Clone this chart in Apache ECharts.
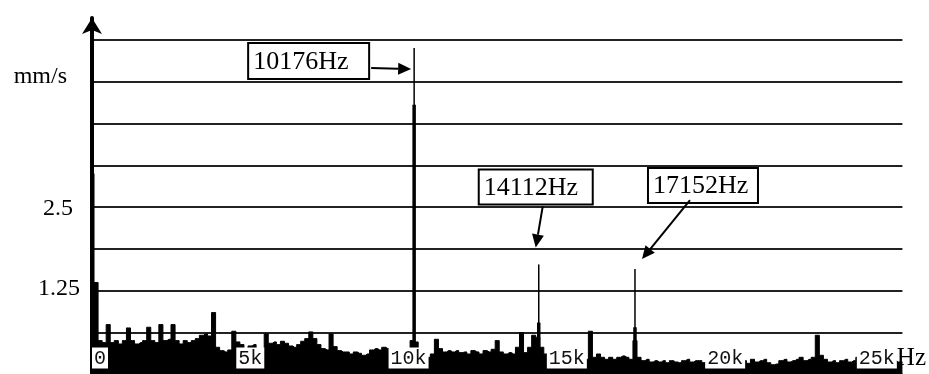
<!DOCTYPE html>
<html><head><meta charset="utf-8">
<script src="https://cdn.jsdelivr.net/npm/echarts@6/dist/echarts.min.js"></script>
<style>html,body{margin:0;padding:0;background:#fff}#c{width:929px;height:374px}</style>
</head><body><div id="c"></div>
<script>
// ---- data ----
const binWidthHz = 128;
const noiseValues = [
  3.00, 1.37, 0.50, 0.47, 0.74, 0.47, 0.50, 0.45, 0.50, 0.69,
  0.50, 0.45, 0.47, 0.50, 0.70, 0.50, 0.47, 0.74, 0.50, 0.52,
  0.74, 0.50, 0.45, 0.50, 0.47, 0.50, 0.53, 0.58, 0.60, 0.57,
  0.92, 0.40, 0.35, 0.33, 0.36, 0.64, 0.48, 0.44, 0.38, 0.42,
  0.44, 0.38, 0.37, 0.60, 0.46, 0.48, 0.44, 0.49, 0.46, 0.42,
  0.40, 0.44, 0.49, 0.53, 0.63, 0.53, 0.44, 0.38, 0.36, 0.60,
  0.41, 0.35, 0.33, 0.33, 0.30, 0.33, 0.31, 0.28, 0.30, 0.36,
  0.38, 0.36, 0.40, 0.38, 0.33, 0.31, 0.31, 0.33, 0.38, 0.50,
  0.48, 0.25, 0.22, 0.25, 0.30, 0.52, 0.38, 0.33, 0.35, 0.33,
  0.35, 0.32, 0.33, 0.30, 0.35, 0.33, 0.30, 0.35, 0.33, 0.37,
  0.50, 0.33, 0.30, 0.32, 0.30, 0.40, 0.62, 0.32, 0.40, 0.58,
  0.55, 0.40, 0.30, 0.25, 0.22, 0.22, 0.20, 0.22, 0.20, 0.22,
  0.22, 0.20, 0.22, 0.64, 0.25, 0.30, 0.25, 0.22, 0.25, 0.22,
  0.25, 0.27, 0.25, 0.22, 0.50, 0.25, 0.20, 0.22, 0.18, 0.20,
  0.18, 0.20, 0.17, 0.20, 0.18, 0.17, 0.20, 0.22, 0.18, 0.20,
  0.20, 0.17, 0.18, 0.20, 0.17, 0.18, 0.20, 0.18, 0.17, 0.16,
  0.18, 0.20, 0.16, 0.22, 0.18, 0.20, 0.22, 0.17, 0.14, 0.15,
  0.20, 0.22, 0.18, 0.20, 0.22, 0.25, 0.20, 0.22, 0.25, 0.58,
  0.28, 0.22, 0.18, 0.20, 0.17, 0.20, 0.22, 0.18, 0.20, 0.25,
  0.22, 0.20, 0.18, 0.20, 0.18, 0.20, 0.17, 0.18, 0.20, 0.18,
  0.18
];
const peakFreqs = [10176, 14112, 17152];
const peakValues = [4.88, 1.64, 1.57];
const peakShoulderValues = [4.03, 0.77, 0.70];
const peakLabels = ['10176Hz', '14112Hz', '17152Hz'];
const xTickValues = [0, 5000, 10000, 15000, 20000, 25000];
const xTickLabels = ['0', '5k', '10k', '15k', '20k', '25k'];
const xUnit = 'Hz';
const yLabelValues = [2.5, 1.25];
const yLabelTexts = ['2.5', '1.25'];
const yUnit = 'mm/s';
const yUnitTick = 4.375;

// ---- chart ----
const chart = echarts.init(document.getElementById('c'), null, {renderer: 'canvas'});
const serif = '"Liberation Serif", "Times New Roman", serif';
const mono = '"Liberation Mono", "DejaVu Sans Mono", monospace';

const option = {
  animation: false,
  backgroundColor: '#fff',
  grid: [
    {left: 92, right: 22, top: 40, bottom: 0},
    {left: 92, top: 18, bottom: 0, width: 1}
  ],
  xAxis: [
    {
      type: 'value', gridIndex: 0, min: 0, max: 25600, interval: 5000, z: 10,
      axisLine: {show: false}, axisTick: {show: false}, splitLine: {show: false},
      axisLabel: {
        inside: true, margin: 6, alignMinLabel: 'left', showMaxLabel: false,
        formatter: function (v) {
          const i = xTickValues.indexOf(v);
          if (i < 0) return '';
          if (i === xTickValues.length - 1) return '{sp|}{t|' + xTickLabels[i] + '}{u|' + xUnit + '}';
          return '{t|' + xTickLabels[i] + '}';
        },
        rich: {
          t: {fontFamily: mono, fontSize: 20, color: '#111', backgroundColor: '#fff', padding: [1, 2, 0, 2], lineHeight: 20},
          u: {fontFamily: serif, fontSize: 25, color: '#000', lineHeight: 20},
          sp: {width: 16}
        }
      }
    },
    {type: 'value', gridIndex: 1, show: false, min: 0, max: 1}
  ],
  yAxis: [
    {
      type: 'value', gridIndex: 0, min: 0, max: 5, interval: 0.625,
      axisLine: {show: false}, axisTick: {show: false},
      splitLine: {show: true, lineStyle: {color: '#222', width: 2}},
      axisLabel: {
        margin: 12,
        formatter: function (v) {
          if (Math.abs(v - yUnitTick) < 1e-6) return '{u|' + yUnit + '}';
          for (let i = 0; i < yLabelValues.length; i++) {
            if (Math.abs(v - yLabelValues[i]) < 1e-6) return '{n' + i + '|' + yLabelTexts[i] + '}';
          }
          return '';
        },
        rich: {
          n0: {fontFamily: serif, fontSize: 24, color: '#000', padding: [4, 7, 0, 0]},
          n1: {fontFamily: serif, fontSize: 24, color: '#000', padding: [0, 0, 4, 0]},
          u: {fontFamily: serif, fontSize: 24, color: '#000', padding: [0, 13, 10, 0]}
        }
      }
    },
    {
      type: 'value', gridIndex: 1, min: 0, max: 1,
      axisLine: {show: true, symbol: ['none', 'arrow'], symbolSize: [15, 16], lineStyle: {color: '#000', width: 4}},
      axisTick: {show: false}, axisLabel: {show: false}, splitLine: {show: false}
    }
  ],
  series: [
    {
      type: 'line', xAxisIndex: 0, yAxisIndex: 0, step: 'middle', symbol: 'none', z: 2,
      data: noiseValues.map((v, i) => [i * binWidthHz, v]),
      lineStyle: {color: '#000', width: 1},
      areaStyle: {color: '#000', opacity: 1}
    },
    {
      type: 'custom', xAxisIndex: 0, yAxisIndex: 0, z: 3,
      data: peakFreqs.map((f, i) => [f, peakValues[i], peakShoulderValues[i]]),
      renderItem: function (params, api) {
        const top = api.coord([api.value(0), api.value(1)]);
        const sh = api.coord([api.value(0), api.value(2)]);
        const base = api.coord([api.value(0), 0]);
        return {
          type: 'group',
          children: [
            {type: 'rect', shape: {x: top[0] - 0.75, y: top[1], width: 1.5, height: base[1] - top[1]}, style: {fill: '#000'}},
            {type: 'rect', shape: {x: sh[0] - 1.75, y: sh[1], width: 3.5, height: base[1] - sh[1]}, style: {fill: '#000'}}
          ]
        };
      }
    }
  ]
};
chart.setOption(option);

// ---- annotations anchored to the peak tops ----
const annLayout = [
  {box: [-166, -5, 121, 36], from: [-43, 20], to: [-3, 21]},
  {box: [-60, -95, 114, 35], from: [4, -58], to: [-3, -17]},
  {box: [13, -101, 110, 35], from: [55, -69], to: [7, -10]}
];
const graphics = [];
peakFreqs.forEach((f, i) => {
  const p = chart.convertToPixel({gridIndex: 0}, [f, peakValues[i]]);
  const L = annLayout[i];
  const bx = p[0] + L.box[0], by = p[1] + L.box[1];
  graphics.push({type: 'rect', z: 20, shape: {x: bx, y: by, width: L.box[2], height: L.box[3]},
    style: {fill: '#fff', stroke: '#000', lineWidth: 2}});
  graphics.push({type: 'text', z: 21, style: {text: peakLabels[i], x: bx + 5, y: by + L.box[3] / 2 + 1,
    verticalAlign: 'middle', font: '26px ' + serif, fill: '#000'}});
  const x1 = p[0] + L.from[0], y1 = p[1] + L.from[1];
  const x2 = p[0] + L.to[0], y2 = p[1] + L.to[1];
  const dx = x2 - x1, dy = y2 - y1, len = Math.hypot(dx, dy);
  const ux = dx / len, uy = dy / len, hl = 13, hw = 6;
  const bxh = x2 - ux * hl, byh = y2 - uy * hl;
  graphics.push({type: 'line', z: 20, shape: {x1: x1, y1: y1, x2: bxh, y2: byh}, style: {stroke: '#000', lineWidth: 2}});
  graphics.push({type: 'polygon', z: 20, shape: {points: [[x2, y2], [bxh - uy * hw, byh + ux * hw], [bxh + uy * hw, byh - ux * hw]]},
    style: {fill: '#000'}});
});
chart.setOption({graphic: graphics});
</script>
</body></html>
